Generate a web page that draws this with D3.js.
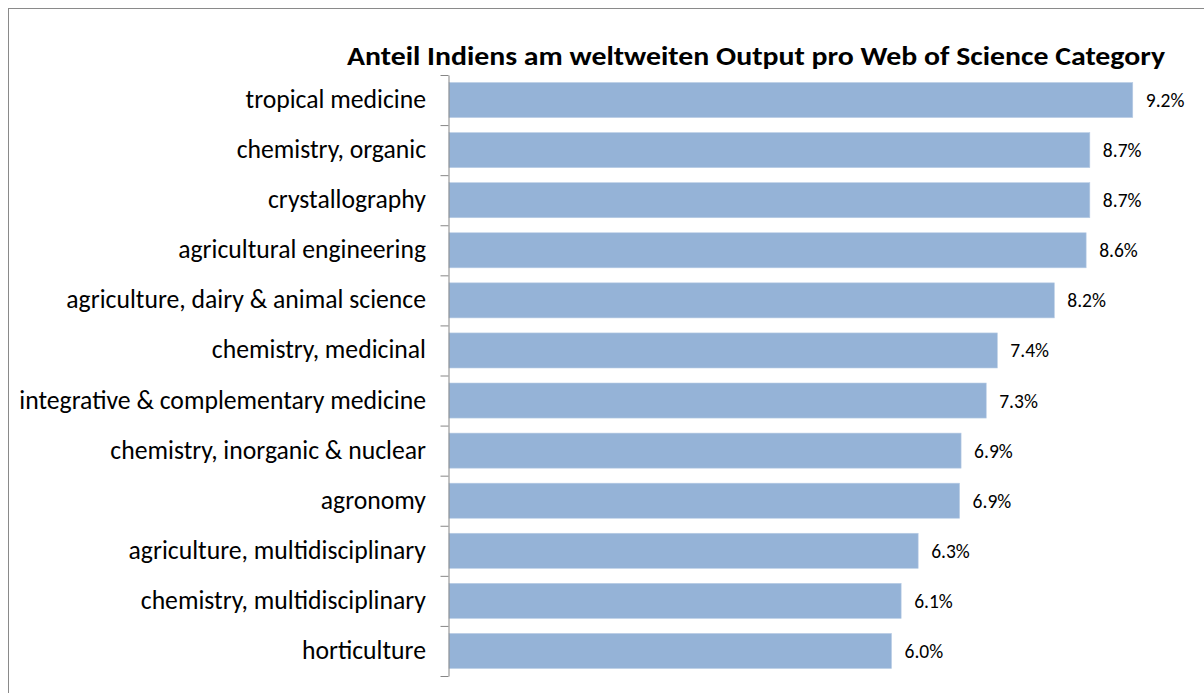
<!DOCTYPE html>
<html>
<head>
<meta charset="utf-8">
<script src="https://cdn.jsdelivr.net/npm/d3@7"></script>
<style>
  body { margin: 0; background: #fff; }
</style>
</head>
<body>
<div id="chart"></div>
<script>
// share of India in world output per WoS category (percent)
const categories = [
  "tropical medicine",
  "chemistry, organic",
  "crystallography",
  "agricultural engineering",
  "agriculture, dairy & animal science",
  "chemistry, medicinal",
  "integrative & complementary medicine",
  "chemistry, inorganic & nuclear",
  "agronomy",
  "agriculture, multidisciplinary",
  "chemistry, multidisciplinary",
  "horticulture"
];
const shares = [9.24, 8.66, 8.66, 8.61, 8.18, 7.41, 7.26, 6.92, 6.90, 6.34, 6.11, 5.98];
const title = "Anteil Indiens am weltweiten Output pro Web of Science Category";

const width = 1204, height = 693;
const font = "Carlito, Calibri, 'Open Sans', sans-serif";

const svg = d3.select("#chart")
  .append("svg")
  .attr("width", width)
  .attr("height", height)
  .style("font-family", font);

// outer chart frame (right/bottom edge falls outside the picture)
svg.append("rect")
  .attr("x", 8.5)
  .attr("y", 8.5)
  .attr("width", 1210)
  .attr("height", 700)
  .attr("fill", "none")
  .attr("stroke", "#8a8a8a")
  .attr("stroke-width", 1);

const plotTop = 75, plotBottom = 676, axisX = 449;

const y = d3.scaleBand()
  .domain(categories)
  .range([plotTop, plotBottom])
  .paddingInner(0.3)
  .paddingOuter(0.15);

const x = d3.scaleLinear()
  .domain([0, 10])
  .range([axisX, axisX + 740]);

// title
svg.append("text")
  .attr("x", 756)
  .attr("y", 65)
  .attr("text-anchor", "middle")
  .attr("font-size", 27)
  .attr("font-weight", "bold")
  .attr("textLength", 818)
  .attr("lengthAdjust", "spacingAndGlyphs")
  .attr("fill", "#000")
  .text(title);

// bars
svg.selectAll("rect.bar")
  .data(categories)
  .enter()
  .append("rect")
  .attr("class", "bar")
  .attr("x", x(0))
  .attr("y", (d) => y(d))
  .attr("width", (d, i) => x(shares[i]) - x(0))
  .attr("height", y.bandwidth())
  .attr("fill", "#95b3d7")
  .attr("stroke", "#b9cde5")
  .attr("stroke-width", 0.6);

// value labels
svg.selectAll("text.value")
  .data(categories)
  .enter()
  .append("text")
  .attr("class", "value")
  .attr("x", (d, i) => x(shares[i]) + 13)
  .attr("y", (d) => y(d) + y.bandwidth() / 2 + 7)
  .attr("font-size", 19.5)
  .attr("fill", "#000")
  .text((d, i) => shares[i].toFixed(1) + "%");

// category axis: ticks sit on the band boundaries
const idx = d3.scaleLinear().domain([0, categories.length]).range([plotTop, plotBottom]);
const axisG = svg.append("g")
  .attr("transform", `translate(${axisX - 0.5},0)`)
  .call(d3.axisLeft(idx)
    .tickValues(d3.range(categories.length + 1))
    .tickSize(8)
    .tickSizeOuter(0)
    .tickFormat(""));
axisG.selectAll("path, line").attr("stroke", "#868686");

// category labels
svg.selectAll("text.cat")
  .data(categories)
  .enter()
  .append("text")
  .attr("class", "cat")
  .attr("x", 426)
  .attr("y", (d) => y(d) + y.bandwidth() / 2 + 8)
  .attr("text-anchor", "end")
  .attr("font-size", 25.7)
  .attr("fill", "#000")
  .text((d) => d);
</script>
</body>
</html>
